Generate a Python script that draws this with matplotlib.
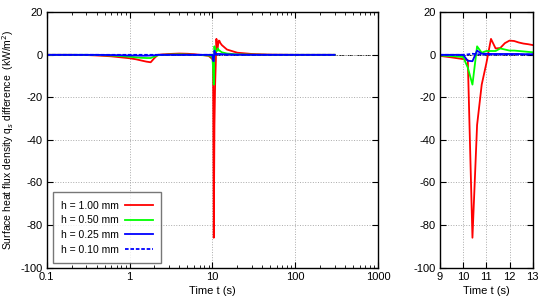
import numpy as np
import matplotlib
matplotlib.use('Agg')
import matplotlib.pyplot as plt
from matplotlib.ticker import NullFormatter

font = {'size': 8, 'family': 'Liberation Sans'}
matplotlib.rc('font', **font)
matplotlib.rcParams['axes.unicode_minus'] = False

# time points (s)
t = [0.1, 0.2, 0.3, 0.4, 0.6, 0.8, 1.0, 1.2, 1.4, 1.6, 1.8, 2.0, 2.2, 2.5,
     3.0, 4.0, 5.0, 6.0, 8.0, 9.0, 9.5,
     10.0, 10.2, 10.4, 10.6, 10.8, 11.0, 11.2, 11.4, 11.6, 11.8, 12.0, 12.2, 12.4, 12.6, 12.8, 13.0,
     15, 20, 30, 50, 100, 200, 300]

# surface heat flux density difference (kW/m2)
q_100 = [0, 0, -0.1, -0.3, -0.7, -1.2, -1.6, -2.1, -2.7, -3.2, -3.5, -1.5, 0, 0.2,
         0.4, 0.6, 0.5, 0.3, -0.2, -0.5, -1.2,
         -2.0, -2.5, -86, -33, -14, -4, 7.5, 3.0, 3.2, 5.5, 6.7, 6.5, 5.8, 5.3, 5.0, 4.6,
         2.5, 1.0, 0.4, 0.1, 0, 0, 0]
q_050 = [0, 0, 0, -0.1, -0.3, -0.6, -0.9, -1.2, -1.4, -1.5, -1.5, -0.8, -0.2, 0,
         0.1, 0.2, 0.1, 0, -0.2, -0.3, -0.6,
         -1.0, -6, -14, 4.0, 1.0, 1.8, 1.8, 1.8, 3.0, 2.5, 2.0, 2.0, 1.8, 1.6, 1.4, 1.2,
         0.6, 0.2, 0.1, 0, 0, 0, 0]
q_025 = [0, 0, 0, 0, -0.1, -0.2, -0.3, -0.3, -0.4, -0.4, -0.3, -0.2, 0, 0,
         0, 0, 0, 0, 0, 0, 0,
         0, -2.8, -3.0, 2.0, 0.5, 0.5, 0.4, 0.4, 0.4, 0.4, 0.4, 0.4, 0.4, 0.3, 0.3, 0.3,
         0.2, 0.1, 0, 0, 0, 0, 0]
q_010 = [0, 0, 0, 0, 0, 0, 0, 0, 0, 0, 0, 0, 0, 0,
         0, 0, 0, 0, 0, 0, 0,
         0, 0.2, 0.5, 0.3, 0.1, 0.1, 0.1, 0.1, 0.1, 0.1, 0.1, 0.1, 0.1, 0.1, 0.1, 0.1,
         0, 0, 0, 0, 0, 0, 0]

series = [(q_100, 'h = 1.00 mm', '#ff0000', '-'),
          (q_050, 'h = 0.50 mm', '#00ff00', '-'),
          (q_025, 'h = 0.25 mm', '#0000ff', '-'),
          (q_010, 'h = 0.10 mm', '#0000ff', (0, (2, 1)))]

fig = plt.figure(figsize=(5.5, 3), dpi=100)
ax1 = fig.add_axes([46.7/550, 1-267.5/300, (378-46.7)/550, (267.5-12.3)/300])
ax2 = fig.add_axes([440/550, 1-267.5/300, (532.7-440)/550, (267.5-12.3)/300])

for ax in (ax1, ax2):
    ax.axhline(0, color='k', ls='-.', lw=0.6, zorder=1)
    for q, lab, c, ls in series:
        ax.plot(t, q, color=c, ls=ls, lw=1.3, label=lab, zorder=2)
    ax.set_ylim(-100, 20)
    ax.set_yticks(np.arange(-100, 21, 20))
    ax.grid(True, color='#aaaaaa', ls=':', lw=0.7)
    ax.tick_params(direction='in', top=True, right=True, length=4, width=0.8, pad=3)
    ax.tick_params(which='minor', direction='in', top=True, right=True, length=2, width=0.6)
    for s in ax.spines.values():
        s.set_linewidth(1.0)
    ax.set_xlabel('Time t (s)', labelpad=3)

ax1.set_xscale('log')
ax1.set_xlim(0.1, 1000)
ax1.set_xticks([0.1, 1, 10, 100, 1000])
ax1.set_xticklabels(['0.1', '1', '10', '100', '1000'])
ax1.xaxis.set_minor_formatter(NullFormatter())
ax1.set_ylabel('Surface heat flux density q$_{s}$ difference  (kW/m$^2$)',
               fontsize=7.5, labelpad=3)

ax2.set_xlim(9, 13)
ax2.set_xticks([9, 10, 11, 12, 13])

leg = ax1.legend(loc='lower left', bbox_to_anchor=(0.019, 0.018), markerfirst=False,
                 fancybox=False, handlelength=2.6, borderpad=0.8, labelspacing=0.45,
                 handletextpad=0.6, borderaxespad=0, fontsize=7.5)
leg.get_frame().set_edgecolor('#555555')
leg.get_frame().set_linewidth(1.0)

fig.savefig('out.png', dpi=100)
